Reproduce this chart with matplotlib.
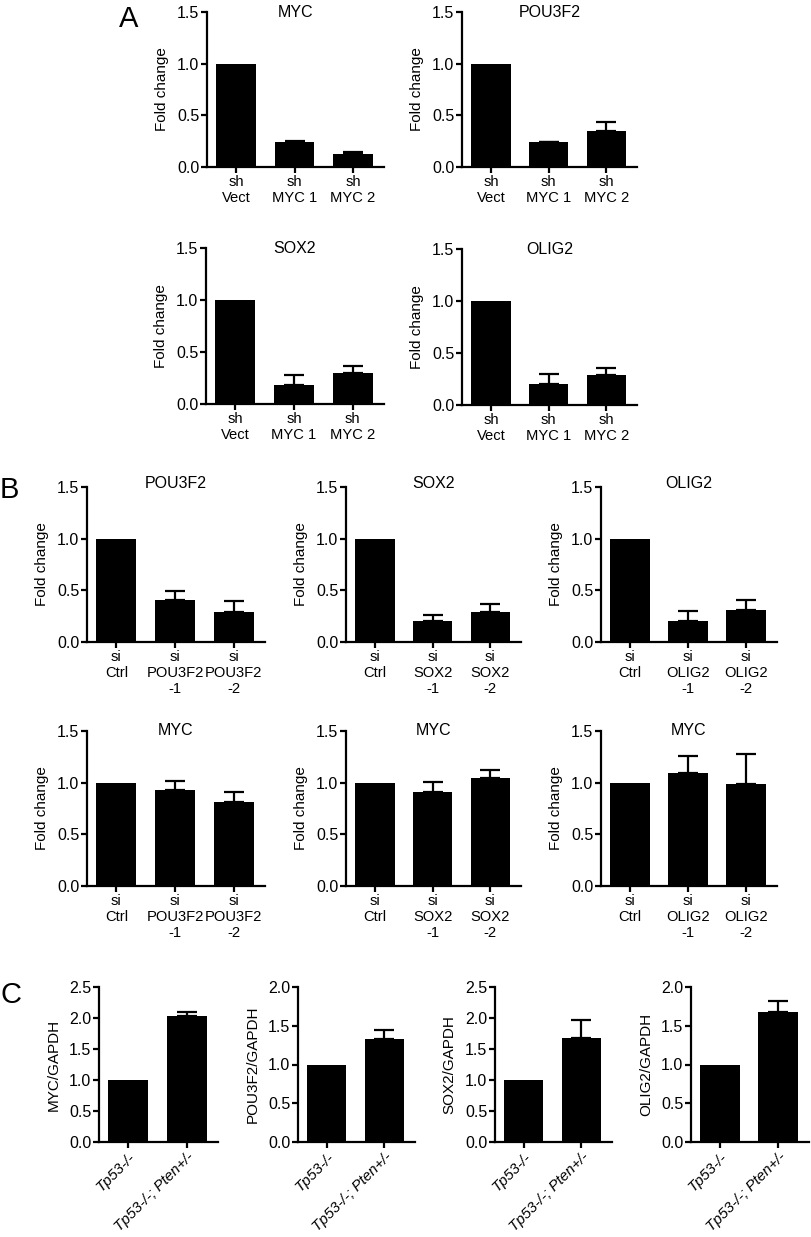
import numpy as np
import matplotlib
matplotlib.use("Agg")
import matplotlib.pyplot as plt

plt.rcParams['font.family'] = ['Liberation Sans', 'DejaVu Sans']

W, H = 812, 1237

# ---- data ----
# Panel A: shRNA knockdown of MYC
a_labels = ["sh\nVect", "sh\nMYC 1", "sh\nMYC 2"]
a_titles = ["MYC", "POU3F2", "SOX2", "OLIG2"]
a_means = [
    [1.0, 0.238, 0.125],
    [1.0, 0.238, 0.347],
    [1.0, 0.185, 0.297],
    [1.0, 0.206, 0.293],
]
a_tops = [
    [1.0, 0.250, 0.148],
    [1.0, 0.245, 0.434],
    [1.0, 0.278, 0.365],
    [1.0, 0.296, 0.351],
]

# Panel B: siRNA knockdown, target gene (top row) and MYC (bottom row)
b_genes = ["POU3F2", "SOX2", "OLIG2"]
b_top_means = [
    [1.0, 0.404, 0.290],
    [1.0, 0.207, 0.294],
    [1.0, 0.207, 0.307],
]
b_top_tops = [
    [1.0, 0.497, 0.394],
    [1.0, 0.258, 0.372],
    [1.0, 0.297, 0.404],
]
b_myc_means = [
    [1.0, 0.933, 0.811],
    [1.0, 0.914, 1.043],
    [1.0, 1.091, 0.988],
]
b_myc_tops = [
    [1.0, 1.013, 0.914],
    [1.0, 1.010, 1.123],
    [1.0, 1.255, 1.278],
]

# Panel C: expression relative to GAPDH
c_labels = ["Tp53-/-", "Tp53-/-; Pten+/-"]
c_ylabels = ["MYC/GAPDH", "POU3F2/GAPDH", "SOX2/GAPDH", "OLIG2/GAPDH"]
c_means = [[1.0, 2.04], [1.0, 1.334], [1.0, 1.68], [1.0, 1.68]]
c_tops = [[1.0, 2.10], [1.0, 1.44], [1.0, 1.97], [1.0, 1.815]]
c_ymax = [2.5, 2.0, 2.5, 2.0]


fig = plt.figure(figsize=(W / 100, H / 100), dpi=100)


def add_box(x0, y0, x1, y1):
    # axes placed by pixel box (top-left origin)
    return fig.add_axes([x0 / W, 1 - y1 / H, (x1 - x0) / W, (y1 - y0) / H])


def bar_panel(ax, means, tops, labels, ymax, ystep, ylabel, title=None,
              title_off=4, xmax=2.53, rot=False):
    x = np.arange(len(means))
    ax.bar(x, means, width=0.68, color='black', edgecolor='black', linewidth=0)
    err = np.array(tops) - np.array(means)
    for xi, m, e in zip(x, means, err):
        if e > 0.003:
            ax.errorbar(xi, m, yerr=[[0], [e]], fmt='none', ecolor='black',
                        elinewidth=1.6, capsize=7, capthick=1.6)
    ax.set_xlim(-0.5, xmax)
    ax.set_ylim(0, ymax)
    ticks = np.arange(0, ymax + 1e-9, ystep)
    ax.set_yticks(ticks)
    ax.set_yticklabels([f"{v:.1f}" for v in ticks])
    ax.set_xticks(x)
    if rot:
        ax.set_xticklabels(labels, rotation=45, ha='right',
                           rotation_mode='anchor', style='italic', fontsize=10.8)
    else:
        ax.set_xticklabels(labels, fontsize=10.6, linespacing=1.2)
    for s in ['top', 'right']:
        ax.spines[s].set_visible(False)
    for s in ['left', 'bottom']:
        ax.spines[s].set_linewidth(1.6)
    ax.tick_params(axis='both', width=1.6, length=4, pad=1.5)
    ax.tick_params(axis='y', labelsize=11.5)
    ax.set_ylabel(ylabel, fontsize=11, labelpad=6)
    if title:
        ax.text(0.5, 1 - title_off / 155, title, transform=ax.transAxes,
                ha='center', va='baseline', fontsize=11.5)


# Panel A
a_boxes = [(207, 12, 384, 167), (462, 12, 637, 167),
           (206, 248, 384, 404), (462, 249, 637, 405)]
for box, t, m, tp in zip(a_boxes, a_titles, a_means, a_tops):
    ax = add_box(*box)
    bar_panel(ax, m, tp, a_labels, 1.5, 0.5, "Fold change", title=t, title_off=5)

# Panel B
b_x = [(87, 265), (346, 521), (601, 777)]
for (x0, x1), g, m, tp in zip(b_x, b_genes, b_top_means, b_top_tops):
    labels = ["si\nCtrl", f"si\n{g}\n-1", f"si\n{g}\n-2"]
    ax = add_box(x0, 487, x1, 642)
    bar_panel(ax, m, tp, labels, 1.5, 0.5, "Fold change", title=g, title_off=1)
for (x0, x1), g, m, tp in zip(b_x, b_genes, b_myc_means, b_myc_tops):
    labels = ["si\nCtrl", f"si\n{g}\n-1", f"si\n{g}\n-2"]
    ax = add_box(x0, 731, x1, 886)
    bar_panel(ax, m, tp, labels, 1.5, 0.5, "Fold change", title="MYC", title_off=4)

# Panel C
c_x = [(99, 218), (298, 415), (495, 612), (691, 809)]
for (x0, x1), yl, m, tp, ym in zip(c_x, c_ylabels, c_means, c_tops, c_ymax):
    ax = add_box(x0, 987, x1, 1142)
    bar_panel(ax, m, tp, c_labels, ym, 0.5, yl, xmax=1.53, rot=True)

# panel letters
fig.text(119 / W, 1 - 27 / H, "A", fontsize=21, va='baseline', ha='left')
fig.text(0 / W, 1 - 498 / H, "B", fontsize=21, va='baseline', ha='left')
fig.text(1 / W, 1 - 1003 / H, "C", fontsize=21, va='baseline', ha='left')

fig.savefig("out.png", dpi=100)
